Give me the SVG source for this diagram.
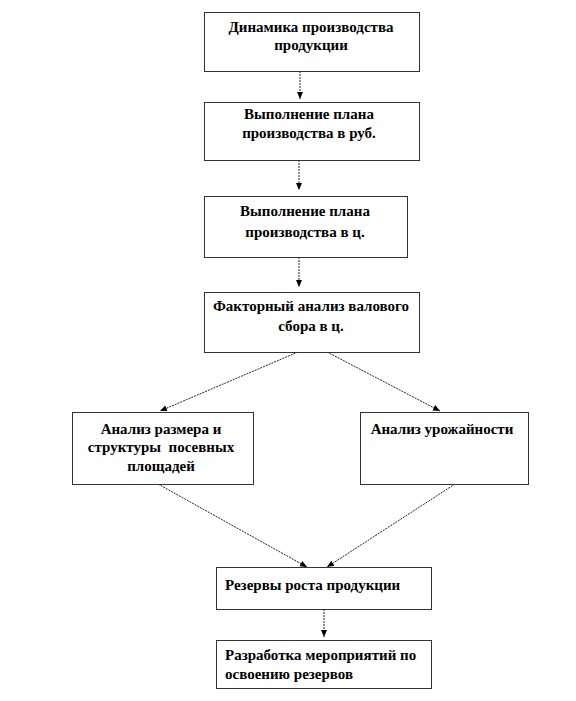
<svg xmlns="http://www.w3.org/2000/svg" width="576" height="701" viewBox="0 0 576 701">
<style>
.box{fill:#fff;stroke:#333;stroke-width:1}
.t{font-family:"Liberation Serif","Times New Roman",serif;font-weight:bold;font-size:15px;fill:#000}
.c{text-anchor:middle}
.ln{stroke:#222;stroke-width:1;stroke-dasharray:2 1;fill:none}
</style>
<defs>
<marker id="ah" markerWidth="8" markerHeight="8" refX="7" refY="3" orient="auto" markerUnits="userSpaceOnUse">
<path d="M0,0 L7,3 L0,6 z" fill="#000"/>
</marker>
</defs>
<rect width="576" height="701" fill="#fff"/>
<g id="connectors">
<line class="ln" x1="300" y1="71" x2="300" y2="99" marker-end="url(#ah)"/>
<line class="ln" x1="299" y1="160" x2="299" y2="190" marker-end="url(#ah)"/>
<line class="ln" x1="299" y1="257" x2="299" y2="287" marker-end="url(#ah)"/>
<line class="ln" x1="298" y1="352" x2="160" y2="411" marker-end="url(#ah)"/>
<line class="ln" x1="327" y1="352" x2="440" y2="411" marker-end="url(#ah)"/>
<line class="ln" x1="158" y1="484" x2="307" y2="567" marker-end="url(#ah)"/>
<line class="ln" x1="455" y1="484" x2="327" y2="567" marker-end="url(#ah)"/>
<line class="ln" x1="324" y1="609" x2="324" y2="637" marker-end="url(#ah)"/>
</g>
<g id="n1">
<rect class="box" x="204.5" y="12.5" width="215" height="59"/>
<text class="t c" x="311" y="32">Динамика производства</text>
<text class="t c" x="311" y="50">продукции</text>
</g>
<g id="n2">
<rect class="box" x="204.5" y="102.5" width="215" height="58"/>
<text class="t c" x="309" y="119">Выполнение плана</text>
<text class="t c" x="309" y="138">производства в руб.</text>
</g>
<g id="n3">
<rect class="box" x="204.5" y="196.5" width="203" height="61"/>
<text class="t c" x="305" y="216">Выполнение плана</text>
<text class="t c" x="305" y="237">производства в ц.</text>
</g>
<g id="n4">
<rect class="box" x="204.5" y="292.5" width="215" height="60"/>
<text class="t c" x="311" y="311">Факторный анализ валового</text>
<text class="t c" x="311" y="331">сбора в ц.</text>
</g>
<g id="n5">
<rect class="box" x="72.5" y="412.5" width="181" height="72"/>
<text class="t c" x="161" y="434">Анализ размера и</text>
<text class="t c" x="161" y="452" xml:space="preserve">структуры  посевных</text>
<text class="t c" x="161" y="471">площадей</text>
</g>
<g id="n6">
<rect class="box" x="360.5" y="412.5" width="168" height="72"/>
<text class="t c" x="442" y="434">Анализ урожайности</text>
</g>
<g id="n7">
<rect class="box" x="216.5" y="567.5" width="215" height="42"/>
<text class="t" x="225" y="590">Резервы роста продукции</text>
</g>
<g id="n8">
<rect class="box" x="216.5" y="640.5" width="215" height="48"/>
<text class="t" x="225" y="660">Разработка мероприятий по</text>
<text class="t" x="225" y="679">освоению резервов</text>
</g>
</svg>
